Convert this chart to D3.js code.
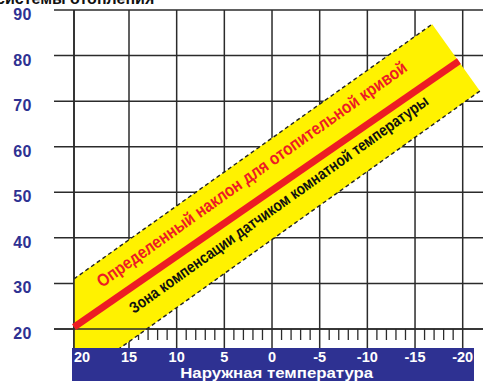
<!DOCTYPE html>
<html><head><meta charset="utf-8">
<script src="https://cdn.jsdelivr.net/npm/d3@7/dist/d3.min.js"></script>
<style>
html,body{margin:0;padding:0;background:#fff;}
svg{display:block;}
text{font-family:"Liberation Sans",Arial,Helvetica,sans-serif;font-weight:bold;}
</style></head>
<body>
<script>
// ---- data ----
const yTicks = [20, 30, 40, 50, 60, 70, 80, 90];
const xTicks = [20, 15, 10, 5, 0, -5, -10, -15, -20];
const xTickLabels = ["20", "15", "10", "5", "0", "-5", "-10", "-15", "-20"];
// heating curve (outdoor temp -> supply temp)
const curveTemps = [20, -19.6];
const curveValues = [20.4, 78.8];
// compensation zone corners (outdoor temp, supply temp)
const zoneTemps = [20, -16.8, -21.8, 20];
const zoneValues = [31.0, 86.9, 72.2, 8.6];
const titleText = "системы отопления";
const xTitle = "Наружная температура";
const redLabel = "Определенный наклон для отопительной кривой";
const blackLabel = "Зона компенсации датчиком комнатной температуры";

const W = 483, H = 381;
const svg = d3.select("body").append("svg").attr("width", W).attr("height", H);

const x = d3.scaleLinear().domain([20, 15, -20]).range([74, 129, 462.7]);
const y = d3.scaleLinear().domain([20, 90]).range([329, 10]);
const gridColor = "#2b2b2b";
const blue = "#2e3192";

// title (cut at top edge as in the original)
svg.append("text").attr("x", -4).attr("y", 4).attr("font-size", 16).attr("fill", "#111")
  .text(titleText);

// horizontal grid
svg.append("g").selectAll("line").data(yTicks).join("line")
  .attr("x1", 54).attr("x2", W).attr("y1", d => y(d)).attr("y2", d => y(d))
  .attr("stroke", gridColor).attr("stroke-width", 1.5);

// vertical grid
svg.append("g").selectAll("line").data(xTicks).join("line")
  .attr("x1", d => x(d)).attr("x2", d => x(d)).attr("y1", y(90)).attr("y2", 348)
  .attr("stroke", gridColor).attr("stroke-width", 1.5);

// minor ticks
const minor = d3.range(19, -21, -1).filter(d => d % 5 !== 0);
svg.append("g").selectAll("line").data(minor).join("line")
  .attr("x1", d => x(d)).attr("x2", d => x(d)).attr("y1", y(20)).attr("y2", y(20) + 11)
  .attr("stroke", gridColor).attr("stroke-width", 1.3);

// zone
const zonePts = zoneTemps.map((t, i) => [x(t), y(zoneValues[i])]);
svg.append("polygon").attr("points", zonePts.map(p => p.join(",")).join(" "))
  .attr("fill", "#fff200");
[[0, 1], [2, 3]].forEach(([a, b]) => {
  svg.append("line").attr("x1", zonePts[a][0]).attr("y1", zonePts[a][1])
    .attr("x2", zonePts[b][0]).attr("y2", zonePts[b][1])
    .attr("stroke", "#222").attr("stroke-width", 1.4).attr("stroke-dasharray", "4,3");
});

// axes lines on top
svg.append("line").attr("x1", 54).attr("x2", W).attr("y1", y(20)).attr("y2", y(20))
  .attr("stroke", gridColor).attr("stroke-width", 1.6);
svg.append("line").attr("x1", x(20)).attr("x2", x(20)).attr("y1", y(90)).attr("y2", 348)
  .attr("stroke", gridColor).attr("stroke-width", 1.6);

// heating curve
const line = d3.line().x(d => x(d[0])).y(d => y(d[1]));
svg.append("path").attr("d", line(curveTemps.map((t, i) => [t, curveValues[i]])))
  .attr("stroke", "#ed1c24").attr("stroke-width", 7).attr("fill", "none");

// labels along the band
const ang = Math.atan2(zonePts[1][1] - zonePts[0][1], zonePts[1][0] - zonePts[0][0]) * 180 / Math.PI;
svg.append("text").attr("transform", `translate(${x(17.45)},${y(29.0)}) rotate(${ang})`)
  .attr("font-size", 17.5).attr("fill", "#ed1c24")
  .attr("textLength", 376).attr("lengthAdjust", "spacingAndGlyphs").text(redLabel);
svg.append("text").attr("transform", `translate(${x(14.48)},${y(23.3)}) rotate(${ang})`)
  .attr("font-size", 16).attr("fill", "#111")
  .attr("textLength", 363).attr("lengthAdjust", "spacingAndGlyphs").text(blackLabel);

// y labels
svg.append("g").selectAll("text").data(yTicks).join("text")
  .attr("x", 32).attr("y", d => y(d) + 10).attr("text-anchor", "end")
  .attr("font-size", 16).attr("letter-spacing", 0.5).attr("fill", blue).text(d => d);

// bottom blue bar
svg.append("rect").attr("x", 72).attr("y", 348).attr("width", 402).attr("height", H - 348).attr("fill", blue);
svg.append("g").selectAll("text").data(xTicks).join("text")
  .attr("x", d => x(d)).attr("y", 362)
  .attr("text-anchor", d => d === 20 ? "start" : "middle")
  .attr("font-size", 14.5).attr("fill", "#fff").text((d, i) => xTickLabels[i]);
svg.append("text").attr("x", 276.7).attr("y", 377.5).attr("text-anchor", "middle")
  .attr("font-size", 15).attr("textLength", 193).attr("lengthAdjust", "spacingAndGlyphs")
  .attr("fill", "#fff").text(xTitle);
</script>
</body></html>
